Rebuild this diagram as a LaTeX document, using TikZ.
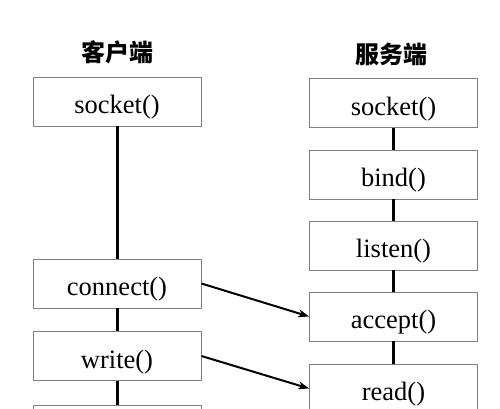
\documentclass[tikz,border=0pt]{standalone}
\usepackage{fontspec}
\setmainfont{Liberation Serif}
\newfontfamily\cjk{Noto Sans CJK SC}
\usepackage{tikz}
\usetikzlibrary{arrows.meta, positioning}

\begin{document}
\begin{tikzpicture}[
		x=1pt, y=-1pt,
		call/.style={rectangle, draw=gray, line width=0.9pt, fill=white, minimum width=168pt, minimum height=49pt, inner sep=0pt, text height=24pt, text depth=0pt, font=\fontsize{26.5}{28}\selectfont},
		title/.style={font=\cjk\bfseries\fontsize{24}{26}\selectfont},
		link/.style={line width=3pt},
		msg/.style={line width=2pt, -{Stealth[length=11pt, width=8pt]}}
		]
	
		\useasboundingbox (0,0) rectangle (500,408);
	
		\node[title] (CT) at (117, 52) {客户端};
		\node[title] (ST) at (391, 54) {服务端};
	
		\node[call] (CS) at (117, 101.5) {socket()};
		\node[call] (CC) at (117, 283.5) {connect()};
		\node[call] (CW) at (117, 356) {write()};
		\node[call] (CR) at (117, 429.5) {};
	
		\node[call] (SS) at (393.5, 103) {socket()};
		\node[call] (SB) at (393.5, 174.5) {bind()};
		\node[call] (SL) at (393.5, 245.5) {listen()};
		\node[call] (SA) at (393.5, 316.5) {accept()};
		\node[call] (SR) at (393.5, 388.5) {read()};
	
		\draw[link] (CS) -- (CC);
		\draw[link] (CC) -- (CW);
		\draw[link] (CW) -- (CR);
	
		\draw[link] (SS) -- (SB);
		\draw[link] (SB) -- (SL);
		\draw[link] (SL) -- (SA);
		\draw[link] (SA) -- (SR);
	
		\draw[msg] (CC.east) to (SA.west);
		\draw[msg] (CW.east) to (SR.west);
	
	\end{tikzpicture}
\end{document}
